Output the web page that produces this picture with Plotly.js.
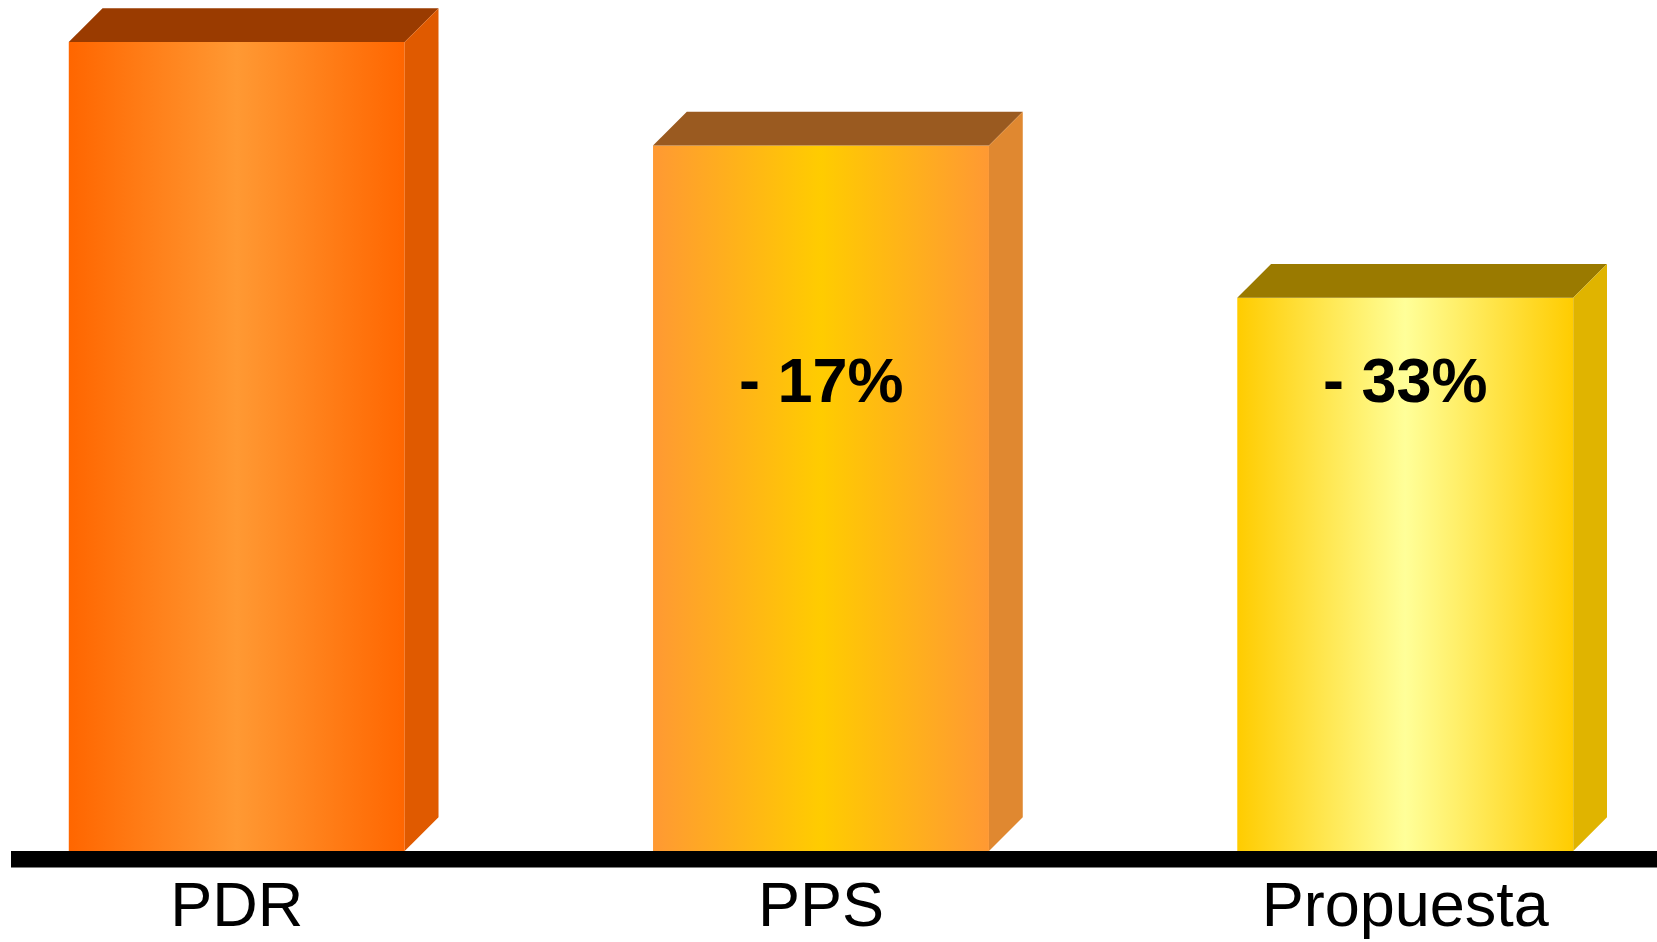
<!DOCTYPE html>
<html>
<head>
<meta charset="utf-8">
<script src="https://cdn.plot.ly/plotly-3.0.1.min.js"></script>
<style>html,body{margin:0;padding:0;background:#fff;}#chart{width:1657px;height:942px;}</style>
</head>
<body>
<div id="chart"></div>
<script>
// ---- data ----
const categories = ['PDR', 'PPS', 'Propuesta'];
const values = [100, 87.2, 68.4];
const changeLabels = ['', '- 17%', '- 33%'];

// ---- styles ----
const gradStops = [
  ['#FF6600', '#FF9933', '#FF6600'],
  ['#FF9933', '#FFCC00', '#FF9933'],
  ['#FFCC00', '#FFFF99', '#FFCC00']
];
const topColors = ['#9A3B00', '#9A5A20', '#9A7A00'];
const sideColors = ['#E05A00', '#E08830', '#E0B400'];

const W = 1657, H = 942;
const margin = {l: 10.6, r: 0, t: 0, b: 91.3};
const xRange = [-0.3864, 2.4309];
const yRange = [0, 105.2];
const barWidth = 0.575;
const depthPx = 33.8;

const plotW = W - margin.l - margin.r;
const plotH = H - margin.t - margin.b;
const dx = depthPx / (plotW / (xRange[1] - xRange[0]));
const dy = depthPx / (plotH / (yRange[1] - yRange[0]));

const xIdx = categories.map((c, i) => i);

const traces = [];
// top faces and side faces
categories.forEach((c, i) => {
  const v = values[i];
  const x0 = xIdx[i] - barWidth / 2, x1 = xIdx[i] + barWidth / 2;
  traces.push({
    type: 'scatter', mode: 'lines', fill: 'toself',
    x: [x0, x1, x1 + dx, x0 + dx, x0],
    y: [v, v, v + dy, v + dy, v],
    line: {width: 0}, fillcolor: topColors[i], hoverinfo: 'skip', showlegend: false
  });
  traces.push({
    type: 'scatter', mode: 'lines', fill: 'toself',
    x: [x1, x1, x1 + dx, x1 + dx, x1],
    y: [0, v, v + dy, dy, 0],
    line: {width: 0}, fillcolor: sideColors[i], hoverinfo: 'skip', showlegend: false
  });
});
// front faces
traces.push({
  type: 'bar', x: xIdx, y: values, width: barWidth,
  marker: {color: gradStops.map(s => s[1]), line: {width: 0}},
  hoverinfo: 'skip', showlegend: false
});

const annotations = categories.map((c, i) => ({
  x: xIdx[i], y: 58.2, xref: 'x', yref: 'y',
  text: changeLabels[i], showarrow: false,
  font: {family: 'Liberation Sans, Arial, sans-serif', size: 63, color: '#000', weight: 'bold'},
  xanchor: 'center', yanchor: 'middle'
})).filter(a => a.text);

const layout = {
  width: W, height: H, margin: margin,
  paper_bgcolor: '#fff', plot_bgcolor: '#fff',
  showlegend: false,
  xaxis: {
    range: xRange, tickmode: 'array', tickvals: xIdx, ticktext: categories,
    showline: false, ticks: '', ticklabelstandoff: 11,
    showgrid: false, zeroline: false, fixedrange: true,
    tickfont: {family: 'Liberation Sans, Arial, sans-serif', size: 63, color: '#000'}
  },
  yaxis: {range: yRange, visible: false, showgrid: false, zeroline: false, fixedrange: true},
  shapes: [{
    type: 'rect', xref: 'paper', x0: 0, x1: 1,
    yref: 'paper', ysizemode: 'pixel', yanchor: 0, y0: -16.5, y1: 0,
    fillcolor: '#000', line: {width: 0}, layer: 'above'
  }],
  annotations: annotations
};

Plotly.newPlot('chart', traces, layout, {displayModeBar: false, staticPlot: true}).then(gd => {
  const svg = gd.querySelector('svg.main-svg');
  const NS = 'http://www.w3.org/2000/svg';
  let defs = svg.querySelector('defs');
  if (!defs) { defs = document.createElementNS(NS, 'defs'); svg.insertBefore(defs, svg.firstChild); }
  gradStops.forEach((stops, i) => {
    const g = document.createElementNS(NS, 'linearGradient');
    g.setAttribute('id', 'frontGrad' + i);
    g.setAttribute('x1', '0'); g.setAttribute('x2', '1');
    g.setAttribute('y1', '0'); g.setAttribute('y2', '0');
    [[0, stops[0]], [0.5, stops[1]], [1, stops[2]]].forEach(([o, col]) => {
      const s = document.createElementNS(NS, 'stop');
      s.setAttribute('offset', o);
      s.setAttribute('stop-color', col);
      g.appendChild(s);
    });
    defs.appendChild(g);
  });
  gd.querySelectorAll('.barlayer .point path').forEach((p, i) => {
    p.style.fill = 'url(#frontGrad' + i + ')';
  });
});
</script>
</body>
</html>
